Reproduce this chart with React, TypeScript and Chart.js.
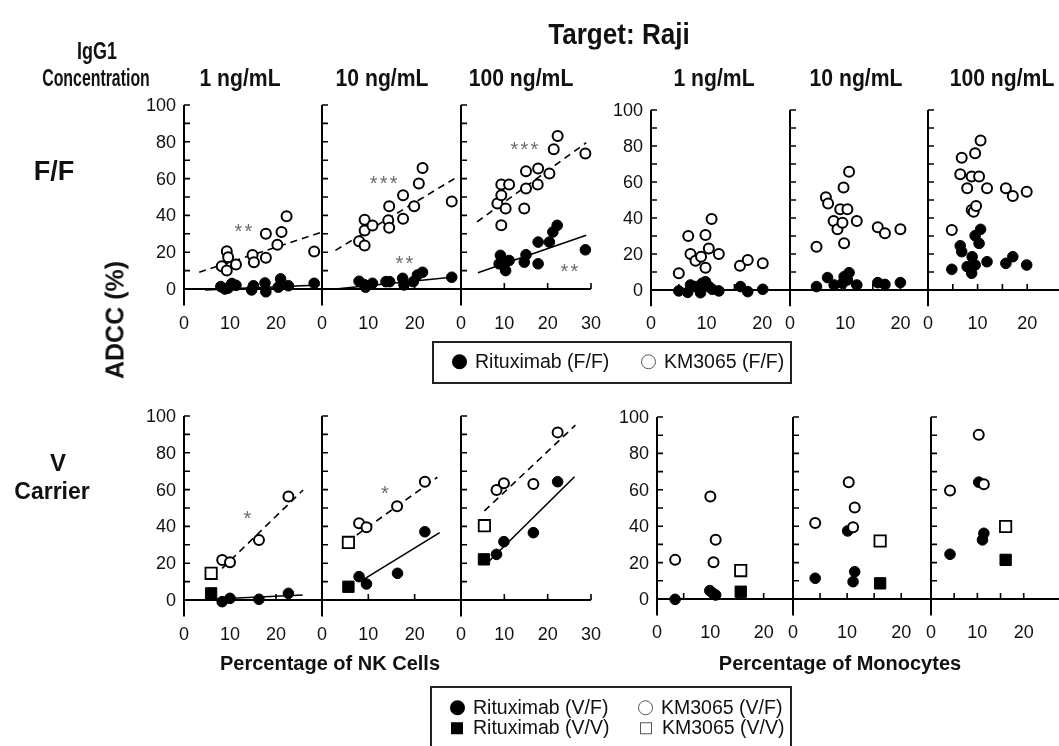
import React, { useEffect, useRef } from 'react';
import { Chart, registerables } from 'chart.js';
Chart.register(...registerables);

type Pt = [number, number];
const W = 1059, H = 746;
const FONT = '"Liberation Sans", Arial, Helvetica, sans-serif';

// ---------- axis values ----------
const Y_MIN = -9, Y_MAX = 100;
const Y_TICKS = [10, 20, 30, 40, 50, 60, 70, 80, 90, 100];
const Y_LABELS = [0, 20, 40, 60, 80, 100];
const NK_X_LABELS = [0, 10, 20];
const NK_X_LABELS_LAST = [0, 10, 20, 30];
const NK_X_TICKS = [10, 20];
const NK_X_TICKS_LAST = [10, 20, 30];
const MO_X_LABELS = [0, 10, 20];
const MO_X_TICKS = [5, 10, 15, 20];

// ---------- F/F, NK cells ----------
const ffNk1Rit: Pt[] = [[8.0,1.3],[8.9,0],[9.6,0.5],[10.4,3],[11.3,2],[14.7,-0.5],[15.1,1.8],[17.6,3.3],[17.8,-1.5],[20.5,1],[21,5.5],[22.7,1.8],[28.3,3.1]];
const ffNk1Km: Pt[] = [[9.3,20.5],[9.6,17.3],[8.2,12.4],[9.3,10],[11.3,13.3],[14.9,18.5],[15.2,14.5],[17.8,30],[17.8,17],[20.3,24],[21.2,31],[22.3,39.5],[28.3,20.4]];
const ffNk1RitFit: Pt[] = [[4.6,-0.5],[29.5,2.2]];
const ffNk1KmFit: Pt[] = [[3.3,9.1],[30,30.9]];

const ffNk10Rit: Pt[] = [[8,4.2],[9.1,2.4],[9.4,1],[10.9,3.1],[13.8,4],[14.6,4],[17.4,5.8],[17.7,2.2],[19.7,4],[20.6,7.6],[21.7,9.1],[28,6.4]];
const ffNk10Km: Pt[] = [[8.0,26],[9.2,23.6],[9.2,37.6],[9.2,31.8],[10.9,34.5],[14.3,37.3],[14.5,33.3],[14.5,45],[17.5,38.2],[17.5,51],[19.9,45],[20.9,57.3],[21.7,65.8],[28,47.6]];
const ffNk10RitFit: Pt[] = [[2.9,0],[28.5,6.5]];
const ffNk10KmFit: Pt[] = [[2.9,21],[28.6,60]];

const ffNk100Rit: Pt[] = [[8.8,13.7],[9.1,18.3],[10.3,10],[11.1,15.5],[9.9,12.8],[14.6,14.6],[15,18.6],[17.8,13.7],[17.8,25.5],[20.4,25.5],[21.2,31],[22.2,34.6],[28.7,21.3]];
const ffNk100Km: Pt[] = [[9.3,34.6],[8.4,46.5],[9.3,51],[9.3,56.8],[11.1,56.8],[10.3,43.7],[14.6,43.7],[15,54.6],[15,64],[17.7,56.8],[17.8,65.5],[20.4,62.8],[21.4,75.9],[22.3,83.2],[28.7,73.7]];
const ffNk100RitFit: Pt[] = [[3.9,8.8],[28.9,29.2]];
const ffNk100KmFit: Pt[] = [[3.7,36.5],[28.9,79.5]];

// ---------- F/F, monocytes ----------
const ffMo1Rit: Pt[] = [[5,-0.5],[6.6,-1.3],[7.1,2.8],[8,1.9],[8.9,-1.5],[9.2,3.7],[9.8,4.6],[10.4,1.9],[11,0.4],[12.2,-0.5],[16.1,1.9],[17.4,-0.9],[20.1,0.4]];
const ffMo1Km: Pt[] = [[5.0,9.3],[6.7,30],[7.1,20],[8.0,16.3],[9.0,18.5],[9.8,12.4],[9.8,30.6],[10.4,23.1],[10.9,39.4],[12.2,20],[16,13.5],[17.4,16.7],[20.1,14.8]];
const ffMo10Rit: Pt[] = [[4.8,1.9],[6.8,6.9],[8,2.8],[9.5,3.7],[9.8,7.4],[10.4,5.6],[10.7,9.6],[12.1,2.8],[15.9,4.1],[17.2,3.1],[20,4.1]];
const ffMo10Km: Pt[] = [[4.8,24],[6.5,51.5],[6.9,48.1],[7.9,38.3],[8.6,33.7],[9.1,44.8],[9.5,37.4],[9.7,57],[9.8,26],[10.4,44.8],[10.7,65.7],[12.1,38.3],[15.9,34.8],[17.2,31.5],[20,33.7]];
const ffMo100Rit: Pt[] = [[4.8,11.5],[6.5,24.6],[6.8,21.3],[7.9,13],[8.6,12],[8.8,9.3],[8.9,18.5],[9.5,13.9],[9.5,30.2],[10.3,25.9],[10.6,33.7],[11.9,15.7],[15.7,14.8],[17.1,18.5],[19.9,13.9]];
const ffMo100Km: Pt[] = [[4.8,33.3],[6.5,64.3],[6.8,73.5],[7.9,56.5],[8.8,63],[8.8,44.4],[9.2,43.5],[9.5,76],[9.7,46.7],[10.3,63],[10.6,83],[11.9,56.5],[15.7,56.5],[17.1,52.2],[19.9,54.6]];

// ---------- V carrier, NK cells ----------
const vNk1RitVF: Pt[] = [[8.3,-0.9],[10,0.9],[16.3,0.4],[22.7,3.6]];
const vNk1KmVF: Pt[] = [[8.3,21.7],[10,20.5],[16.3,32.6],[22.7,56.2]];
const vNk1RitVV: Pt[] = [[5.9,3.6]];
const vNk1KmVV: Pt[] = [[5.9,14.5]];
const vNk1RitFit: Pt[] = [[5.7,0.4],[25.8,2.7]];
const vNk1KmFit: Pt[] = [[8.3,17.2],[25.9,59.8]];

const vNk10RitVF: Pt[] = [[8,12.7],[9.6,8.7],[16.3,14.5],[22.2,37.1]];
const vNk10KmVF: Pt[] = [[8,41.7],[9.6,39.5],[16.2,51],[22.2,64.3]];
const vNk10RitVV: Pt[] = [[5.7,7.2]];
const vNk10KmVV: Pt[] = [[5.7,31.3]];
const vNk10RitFit: Pt[] = [[8.2,10],[25.4,36.6]];
const vNk10KmFit: Pt[] = [[7.5,35.3],[24.9,66.7]];

const vNk100RitVF: Pt[] = [[8.2,24.8],[9.9,31.7],[16.7,36.6],[22.3,64.3]];
const vNk100KmVF: Pt[] = [[8.2,59.8],[9.9,63.4],[16.7,63],[22.3,91.1]];
const vNk100RitVV: Pt[] = [[5.3,22.1]];
const vNk100KmVV: Pt[] = [[5.4,40.4]];
const vNk100RitFit: Pt[] = [[6,20],[26.2,67]];
const vNk100KmFit: Pt[] = [[5.4,48.4],[26.4,95]];

// ---------- V carrier, monocytes ----------
const vMo1RitVF: Pt[] = [[3.4,-0.2],[9.9,4.6],[10.5,3.1],[11,2.2]];
const vMo1KmVF: Pt[] = [[3.4,21.5],[10,56.3],[10.6,20.2],[11,32.5]];
const vMo1RitVV: Pt[] = [[15.7,4]];
const vMo1KmVV: Pt[] = [[15.7,15.6]];
const vMo10RitVF: Pt[] = [[4.1,11.4],[10.1,37.4],[11.1,9.5],[11.4,15]];
const vMo10KmVF: Pt[] = [[4.1,41.7],[10.3,64.2],[11.4,50.3],[11.1,39.4]];
const vMo10RitVV: Pt[] = [[16.1,8.6]];
const vMo10KmVV: Pt[] = [[16.1,31.9]];
const vMo100RitVF: Pt[] = [[4.1,24.6],[10.3,64.2],[11.4,36.1],[11.1,32.5]];
const vMo100KmVF: Pt[] = [[4.1,59.6],[10.3,90.3],[11.4,63.1]];
const vMo100RitVV: Pt[] = [[16.1,21.5]];
const vMo100KmVV: Pt[] = [[16.1,39.8]];

// ---------- significance marks (x, y, text) ----------
type Star = { x: number; y: number; t: string };
const starsFfNk1: Star[] = [{ x: 12.9, y: 33, t: '**' }];
const starsFfNk10: Star[] = [{ x: 13.3, y: 59, t: '***' }, { x: 17.8, y: 15.5, t: '**' }];
const starsFfNk100: Star[] = [{ x: 14.6, y: 77.7, t: '***' }, { x: 25, y: 11, t: '**' }];
const starsVNk1: Star[] = [{ x: 13.8, y: 46, t: '*' }];
const starsVNk10: Star[] = [{ x: 13.6, y: 59.4, t: '*' }];

interface PanelDef {
  left: number; right: number; top: number; zero: number; xMax: number;
  xTicks: number[]; xLabels: number[]; yLabels: boolean; axisEnd?: number;
  filled: Pt[]; open: Pt[]; filledSq?: Pt[]; openSq?: Pt[]; solid?: Pt[]; dashed?: Pt[];
  stars?: Star[];
}

const panels: PanelDef[] = [
  // top-left (F/F, NK)
  { left: 184, right: 322, top: 105, zero: 289, xMax: 30, xTicks: NK_X_TICKS, xLabels: NK_X_LABELS, yLabels: true,
    filled: ffNk1Rit, open: ffNk1Km, solid: ffNk1RitFit, dashed: ffNk1KmFit, stars: starsFfNk1 },
  { left: 322, right: 461, top: 105, zero: 289, xMax: 30, xTicks: NK_X_TICKS, xLabels: NK_X_LABELS, yLabels: false,
    filled: ffNk10Rit, open: ffNk10Km, solid: ffNk10RitFit, dashed: ffNk10KmFit, stars: starsFfNk10 },
  { left: 461, right: 591, top: 105, zero: 289, xMax: 30, xTicks: NK_X_TICKS_LAST, xLabels: NK_X_LABELS_LAST, yLabels: false,
    filled: ffNk100Rit, open: ffNk100Km, solid: ffNk100RitFit, dashed: ffNk100KmFit, stars: starsFfNk100 },
  // top-right (F/F, monocytes)
  { left: 651, right: 790, top: 110, zero: 290, xMax: 25, xTicks: MO_X_TICKS, xLabels: MO_X_LABELS, yLabels: true,
    filled: ffMo1Rit, open: ffMo1Km },
  { left: 790, right: 928, top: 110, zero: 290, xMax: 25, xTicks: MO_X_TICKS, xLabels: MO_X_LABELS, yLabels: false,
    filled: ffMo10Rit, open: ffMo10Km },
  { left: 928, right: 1066, top: 110, zero: 290, xMax: 25, xTicks: MO_X_TICKS, xLabels: MO_X_LABELS, yLabels: false, axisEnd: 1059,
    filled: ffMo100Rit, open: ffMo100Km },
  // bottom-left (V carrier, NK)
  { left: 184, right: 322, top: 416, zero: 600, xMax: 30, xTicks: NK_X_TICKS, xLabels: NK_X_LABELS, yLabels: true,
    filled: vNk1RitVF, open: vNk1KmVF, filledSq: vNk1RitVV, openSq: vNk1KmVV, solid: vNk1RitFit, dashed: vNk1KmFit, stars: starsVNk1 },
  { left: 322, right: 461, top: 416, zero: 600, xMax: 30, xTicks: NK_X_TICKS, xLabels: NK_X_LABELS, yLabels: false,
    filled: vNk10RitVF, open: vNk10KmVF, filledSq: vNk10RitVV, openSq: vNk10KmVV, solid: vNk10RitFit, dashed: vNk10KmFit, stars: starsVNk10 },
  { left: 461, right: 591, top: 416, zero: 600, xMax: 30, xTicks: NK_X_TICKS_LAST, xLabels: NK_X_LABELS_LAST, yLabels: false,
    filled: vNk100RitVF, open: vNk100KmVF, filledSq: vNk100RitVV, openSq: vNk100KmVV, solid: vNk100RitFit, dashed: vNk100KmFit },
  // bottom-right (V carrier, monocytes)
  { left: 657, right: 793, top: 417, zero: 599, xMax: 25.5, xTicks: MO_X_TICKS, xLabels: MO_X_LABELS, yLabels: true,
    filled: vMo1RitVF, open: vMo1KmVF, filledSq: vMo1RitVV, openSq: vMo1KmVV },
  { left: 793, right: 931, top: 417, zero: 599, xMax: 25.5, xTicks: MO_X_TICKS, xLabels: MO_X_LABELS, yLabels: false,
    filled: vMo10RitVF, open: vMo10KmVF, filledSq: vMo10RitVV, openSq: vMo10KmVV },
  { left: 931, right: 1067, top: 417, zero: 599, xMax: 25.5, xTicks: MO_X_TICKS, xLabels: MO_X_LABELS, yLabels: false, axisEnd: 1059,
    filled: vMo100RitVF, open: vMo100KmVF, filledSq: vMo100RitVV, openSq: vMo100KmVV },
];

const toXY = (a: Pt[]) => a.map(([x, y]) => ({ x, y }));

function makePlugin(p: PanelDef) {
  return {
    id: 'panelAxes',
    beforeDatasetsDraw(chart: any) {
      const { ctx } = chart;
      const xs = chart.scales.x, ys = chart.scales.y;
      const x0 = xs.getPixelForValue(0), y0 = ys.getPixelForValue(0);
      const yTop = ys.getPixelForValue(Y_MAX), yBot = ys.getPixelForValue(Y_MIN);
      const xEnd = p.axisEnd ?? xs.getPixelForValue(p.xMax);
      ctx.save();
      ctx.strokeStyle = '#000';
      ctx.lineWidth = 2;
      ctx.beginPath();
      ctx.moveTo(x0, yTop); ctx.lineTo(x0, yBot);
      ctx.moveTo(x0, y0); ctx.lineTo(xEnd, y0);
      ctx.stroke();
      ctx.lineWidth = 1.6;
      ctx.beginPath();
      for (const t of Y_TICKS) { const y = ys.getPixelForValue(t); ctx.moveTo(x0, y); ctx.lineTo(x0 + 6, y); }
      for (const t of p.xTicks) { const x = xs.getPixelForValue(t); ctx.moveTo(x, y0); ctx.lineTo(x, y0 - 6); }
      ctx.stroke();
      ctx.fillStyle = '#111';
      ctx.font = `18px ${FONT}`;
      ctx.textBaseline = 'middle';
      if (p.yLabels) {
        ctx.textAlign = 'right';
        for (const t of Y_LABELS) ctx.fillText(String(t), x0 - 8, ys.getPixelForValue(t) + 1);
      }
      ctx.textAlign = 'center';
      for (const t of p.xLabels) ctx.fillText(String(t), xs.getPixelForValue(t), yBot + 18);
      ctx.restore();
    },
    afterDatasetsDraw(chart: any) {
      if (!p.stars) return;
      const { ctx } = chart;
      const xs = chart.scales.x, ys = chart.scales.y;
      ctx.save();
      ctx.fillStyle = '#6b6b6b';
      ctx.font = `20px ${FONT}`;
      ctx.textAlign = 'center';
      ctx.textBaseline = 'middle';
      for (const s of p.stars) {
        const cx = xs.getPixelForValue(s.x), cy = ys.getPixelForValue(s.y);
        const n = s.t.length, gap = 10;
        for (let i = 0; i < n; i++) ctx.fillText('*', cx + (i - (n - 1) / 2) * gap, cy + 4);
      }
      ctx.restore();
    },
  };
}

function Panel({ p }: { p: PanelDef }) {
  const ref = useRef<HTMLCanvasElement>(null);
  useEffect(() => {
    const mark = (data: Pt[], style: string, fill: string, r: number, bw: number) => ({
      data: toXY(data), pointStyle: style, pointRadius: r, pointHoverRadius: r,
      pointBackgroundColor: fill, pointBorderColor: '#000', pointBorderWidth: bw,
      showLine: false, clip: false,
    });
    const fit = (data: Pt[], dash: number[]) => ({
      data: toXY(data), showLine: true, pointRadius: 0, borderColor: '#000', borderWidth: 1.6,
      borderDash: dash, clip: false, fill: false,
    });
    const datasets: any[] = [];
    if (p.openSq) datasets.push(mark(p.openSq, 'rect', '#fff', 8, 1.8));
    datasets.push(mark(p.open, 'circle', '#fff', 5, 2));
    if (p.filledSq) datasets.push(mark(p.filledSq, 'rect', '#000', 8, 1));
    datasets.push(mark(p.filled, 'circle', '#000', 5.3, 1));
    if (p.solid) datasets.push(fit(p.solid, []));
    if (p.dashed) datasets.push(fit(p.dashed, [7, 5]));
    const bottom = p.zero + (p.zero - p.top) * (-Y_MIN) / Y_MAX;
    const chart = new Chart(ref.current as HTMLCanvasElement, {
      type: 'scatter',
      data: { datasets },
      options: {
        responsive: false, animation: false, devicePixelRatio: 1, events: [],
        layout: { padding: { left: p.left, right: W - p.right, top: p.top, bottom: H - bottom } },
        plugins: { legend: { display: false }, tooltip: { enabled: false } },
        scales: {
          x: { type: 'linear', display: false, min: 0, max: p.xMax },
          y: { type: 'linear', display: false, min: Y_MIN, max: Y_MAX },
        },
      },
      plugins: [makePlugin(p)],
    } as any);
    return () => chart.destroy();
  }, [p]);
  return <canvas ref={ref} width={W} height={H} style={{ position: 'absolute', left: 0, top: 0 }} />;
}

function Txt({ x, y, size, bold = true, sx = 1, rotate = false, children }: any) {
  const tf = `translate(-50%, -50%)${rotate ? ' rotate(-90deg)' : ''}${sx !== 1 ? ` scaleX(${sx})` : ''}`;
  return (
    <div style={{ position: 'absolute', left: x, top: y, transform: tf, fontFamily: FONT, fontSize: size,
      fontWeight: bold ? 700 : 400, whiteSpace: 'nowrap', lineHeight: 1, color: '#111' }}>{children}</div>
  );
}

const dot = (filled: boolean, square: boolean, size: number): React.CSSProperties => ({
  display: 'inline-block', width: size, height: size, boxSizing: 'border-box',
  borderRadius: square ? 0 : '50%', background: filled ? '#000' : '#fff',
  border: filled ? 'none' : '1px solid #555', verticalAlign: 'middle', flex: 'none',
});

function LegendItem({ x, y, filled, square, label }: any) {
  return (
    <div style={{ position: 'absolute', left: x, top: y, transform: 'translateY(-50%)', display: 'flex', alignItems: 'center',
      fontFamily: FONT, fontSize: 19.5, whiteSpace: 'nowrap', color: '#111', lineHeight: 1 }}>
      <span style={dot(filled, square, square ? 12 : 15)} />
      <span style={{ marginLeft: square ? 10 : 8 }}>{label}</span>
    </div>
  );
}

const colHeads = ['1 ng/mL', '10 ng/mL', '100 ng/mL'];
const colHeadX = [240, 382, 521, 714, 856, 1002];

export default function App() {
  return (
    <div style={{ position: 'absolute', left: 0, top: 0, width: W, height: H, background: '#fff', overflow: 'hidden' }}>
      {panels.map((p, i) => <Panel key={i} p={p} />)}
      <Txt x={619} y={34} size={29} sx={0.9}>Target: Raji</Txt>
      <Txt x={97} y={51} size={23} sx={0.78}>IgG1</Txt>
      <Txt x={96} y={78} size={23} sx={0.69}>Concentration</Txt>
      {colHeadX.map((x, i) => <Txt key={i} x={x} y={78} size={23} sx={0.92}>{colHeads[i % 3]}</Txt>)}
      <Txt x={54} y={171} size={27}>F/F</Txt>
      <Txt x={58} y={463} size={24}>V</Txt>
      <Txt x={52} y={491} size={23}>Carrier</Txt>
      <Txt x={115} y={320} size={25} rotate>ADCC (%)</Txt>
      <Txt x={330} y={663} size={20}>Percentage of NK Cells</Txt>
      <Txt x={840} y={663} size={20}>Percentage of Monocytes</Txt>
      <div style={{ position: 'absolute', left: 432, top: 341, width: 360, height: 43, border: '2px solid #222', boxSizing: 'border-box' }} />
      <LegendItem x={452} y={362} filled label="Rituximab (F/F)" />
      <LegendItem x={641} y={362} filled={false} label="KM3065 (F/F)" />
      <div style={{ position: 'absolute', left: 430, top: 686, width: 362, height: 80, border: '2px solid #222', boxSizing: 'border-box' }} />
      <LegendItem x={450} y={708} filled label="Rituximab (V/F)" />
      <LegendItem x={638} y={708} filled={false} label="KM3065 (V/F)" />
      <LegendItem x={451} y={728} filled square label="Rituximab (V/V)" />
      <LegendItem x={640} y={728} filled={false} square label="KM3065 (V/V)" />
    </div>
  );
}
